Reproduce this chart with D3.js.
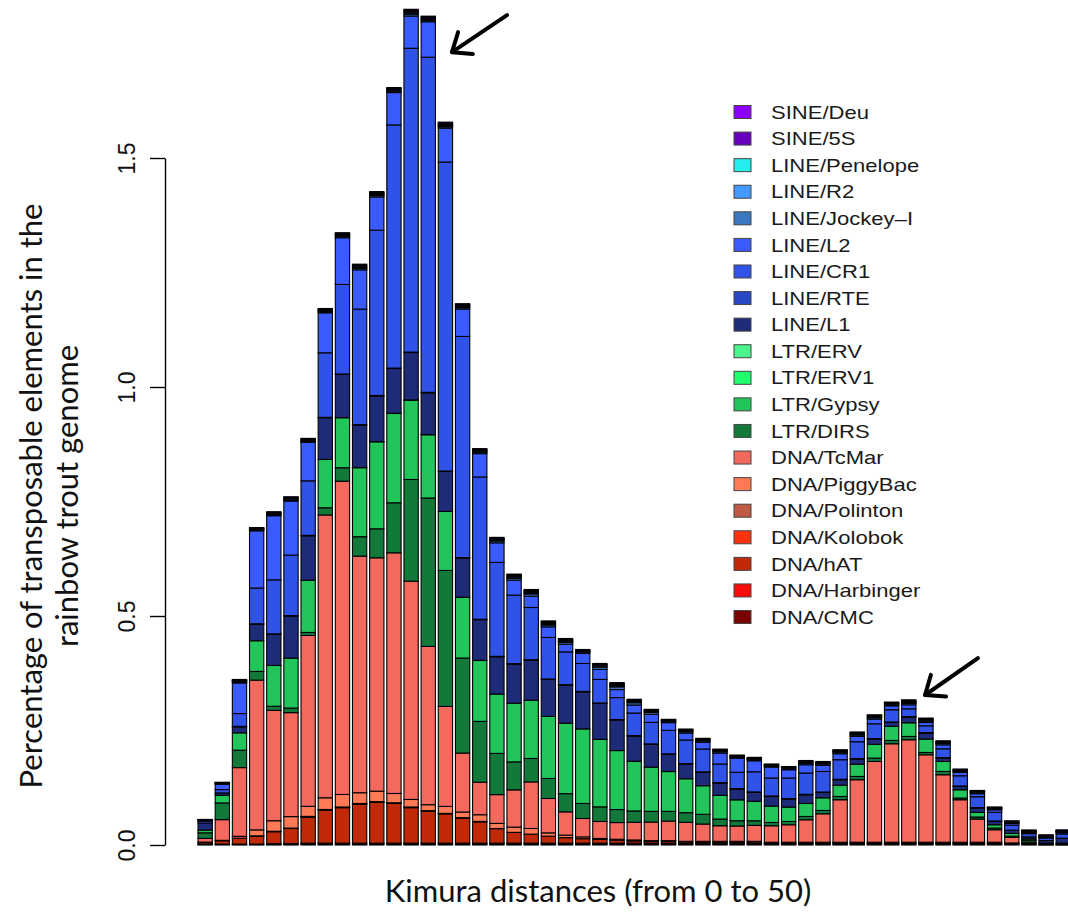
<!DOCTYPE html>
<html><head><meta charset="utf-8">
<script src="https://cdn.jsdelivr.net/npm/d3@7"></script>
<style>body{margin:0;background:#fff}svg{display:block}</style>
</head><body>
<svg id="chart" width="1068" height="915"></svg>
<script>
const distances = [0,1,2,3,4,5,6,7,8,9,10,11,12,13,14,15,16,17,18,19,20,21,22,23,24,25,26,27,28,29,30,31,32,33,34,35,36,37,38,39,40,41,42,43,44,45,46,47,48,49,50];

// stacked from bottom to top
const dnaCMC = [.001,.001,.001,.001,.001,.001,.002,.002,.002,.002,.002,.002,.002,.002,.002,.002,.002,.002,.002,.002,.002,.002,.002,.002,.002,.002,.002,.002,.002,.002,.002,.002,.002,.0015,.0015,.0015,.0015,.0015,.0015,.0015,.0015,.0015,.0015,.0015,.0015,.0015,.0015,.0015,.001,.0005,.0005];
const dnaHarbinger = [.001,.001,.001,.001,.002,.002,.002,.002,.002,.002,.002,.002,.002,.002,.002,.002,.002,.002,.002,.002,.002,.002,.002,.002,.002,.002,.002,.002,.002,.002,.002,.002,.002,.0015,.0015,.0015,.0015,.0015,.0015,.0015,.0015,.0015,.0015,.0015,.0015,.0015,.0015,.0015,.001,.0005,.0005];
const dnaHAT = [.0033,.0072,.013,.017,.026,.033,.057,.0721,.0775,.0852,.0891,.0867,.0775,.0699,.064,.0546,.0465,.0317,.0236,.0197,.0153,.012,.0098,.0081,.0065,.005,.004,.004,.003,.003,.003,.003,.003,.002,.002,.002,.002,.002,.002,.002,.002,.002,.002,.002,.002,.002,.002,.001,.001,0,0];
const dnaKolobok = [0,0,0,0,0,0,.0005,.0005,.0005,.0005,.0005,.0005,.0005,0,0,0,0,0,0,0,0,0,0,0,0,0,0,0,0,0,0,0,0,0,0,0,0,0,0,0,0,0,0,0,0,0,0,0,0,0,0];
const dnaPolinton = [0,0,0,.001,.001,.001,.001,.001,.001,.001,.001,.001,.001,.001,.001,.001,.001,0,0,0,0,0,0,0,0,0,0,0,0,0,0,0,0,0,0,0,0,0,0,0,0,0,0,0,0,0,0,0,0,0,0];
const dnaPiggyBac = [.001,.001,.004,.013,.023,.025,.022,.0255,.0273,.0234,.0229,.0203,.0164,.0131,.0153,.0124,.0146,.0114,.0114,.0124,.0072,.0055,.0039,.0022,.002,.002,.0015,.0015,.001,.001,.001,.001,.001,.001,.001,.001,.001,.001,.001,.001,.001,.001,.001,.001,.001,.001,.001,.0005,0,0,0];
const dnaTcMar = [.0081,.0452,.150,.327,.241,.227,.373,.6175,.6841,.5166,.5096,.5255,.4766,.3456,.2183,.1288,.071,.0629,.0814,.1017,.0751,.0509,.0402,.0371,.0365,.0386,.0406,.0428,.0415,.0378,.0341,.0334,.0349,.036,.0382,.0491,.0622,.0928,.1365,.1764,.2151,.2238,.191,.1474,.0928,.0507,.0273,.012,.003,.001,.001];
const ltrDIRS = [.0122,.0365,.038,.019,.009,.010,.0066,.0157,.0293,.0424,.0633,.1092,.2221,.324,.2969,.2074,.1328,.09,.0611,.0511,.0437,.0397,.0328,.0319,.0284,.0247,.0234,.0212,.021,.0212,.0146,.0116,.01,.0072,.0072,.0072,.0072,.0072,.0072,.0074,.0072,.0072,.005,.0072,.0037,.0044,.0037,.0028,.0044,.002,.002];
const ltrGypsy = [.0059,.0166,.038,.067,.089,.109,.114,.1055,.1092,.1507,.19,.195,.1731,.1382,.1288,.1328,.133,.1295,.1282,.1273,.1354,.1539,.1627,.1472,.1288,.1085,.0965,.0869,.0742,.0624,.0517,.0456,.0426,.0358,.0314,.0284,.0277,.0245,.0266,.0301,.0306,.0299,.0293,.0218,.0181,.01,.0072,.0059,.003,0,0];
const ltrERV1 = [0,0,0,0,0,0,0,0,0,.0005,.0005,.0005,.0005,.0005,0,0,0,0,0,0,0,0,0,0,0,0,0,0,0,0,0,0,0,0,0,0,0,0,0,0,0,0,0,0,0,0,0,0,0,0,0];
const ltrERV = [0,0,0,0,0,0,0,0,0,0,0,0,0,0,0,0,0,0,0,0,0,0,0,0,0,0,0,0,0,0,0,0,0,0,0,0,0,0,0,0,0,0,0,0,0,0,0,0,0,0,0];
const lineL1 = [.0153,.0052,.013,.036,.068,.092,.097,.091,.0945,.0924,.0996,.0976,.1035,.091,.0873,.0856,.0891,.0814,.0852,.0873,.0808,.083,.081,.0786,.0668,.0552,.0498,.0376,.0321,.0293,.0269,.0236,.0194,.021,.0175,.019,.0116,.012,.0114,.0114,.0087,.0124,.0131,.0074,.0072,.0096,.0072,.0072,.0044,.0057,.011];
const lineRTE = [0,0,.001,.001,.001,.001,.001,.001,.001,.001,.001,.001,.001,.001,.001,.001,.001,.001,.001,.001,.001,.001,.001,.001,.001,.001,.001,.001,.001,.001,.001,.001,.001,.001,.001,.001,.001,.001,.001,.001,.001,.001,.001,.001,.001,.001,.001,0,0,0,0];
const lineCR1 = [.0044,.0072,.028,.078,.118,.132,.119,.1409,.1955,.2523,.3608,.5309,.6634,.7318,.6745,.4828,.3106,.2051,.1497,.1141,.0907,.0717,.061,.0514,.0479,.0492,.047,.0514,.0514,.0499,.0405,.0355,.044,.0392,.0449,.0464,.0449,.0427,.0368,.0324,.0267,.0171,.0149,.0193,.0224,.0237,.0191,.0109,.007,.0055,.009];
const lineL2 = [0,.012,.067,.125,.140,.118,.084,.0873,.102,.0858,.0727,.0707,.0705,.0773,.0742,.0598,.0509,.0428,.0328,.0247,.0231,.0168,.0218,.0218,.0175,.0175,.0175,.0168,.0153,.0146,.024,.0306,.024,.024,.0181,.0181,.0131,.0131,.0116,.0103,.0087,.0087,.0072,.0087,.0072,.0066,.0055,.0037,.002,.002,.003];
const lineJockey = [.001,.001,.002,.002,.002,.002,.002,.002,.003,.003,.003,.003,.004,.003,.003,.003,.003,.004,.004,.005,.004,.004,.003,.005,.006,.005,.004,.002,.003,.003,.003,.002,.002,.002,.002,.003,.003,.003,.003,.003,.002,.003,.003,.003,.002,.002,.002,.002,.002,.001,.002];
const lineR2 = [.0007,.0008,.0014,.0013,.0017,.0019,.0017,.0019,.002,.0024,.0022,.002,.0027,.0023,.0025,.0022,.002,.002,.0023,.0024,.0023,.0021,.0014,.002,.0023,.0019,.0017,.0013,.0014,.0014,.0014,.0013,.0014,.0012,.0013,.0016,.0014,.0014,.0017,.0016,.0015,.002,.0017,.0014,.0014,.0013,.001,.0009,.001,.001,.001];
const linePenelope = [.0006,.0008,.0013,.0014,.0016,.0018,.0017,.0018,.0021,.0023,.0022,.0021,.0026,.0023,.0024,.0021,.0019,.002,.0022,.0025,.0022,.002,.0015,.002,.0022,.0018,.0017,.0013,.0015,.0014,.0013,.0013,.0013,.0012,.0013,.0015,.0014,.0015,.0016,.0016,.0015,.0019,.0016,.0014,.0013,.0013,.001,.0009,.001,.001,.001];
const sine5S = [.0007,.0007,.0014,.0013,.0017,.0019,.0016,.0019,.002,.0024,.0021,.002,.0027,.0024,.0025,.0022,.002,.0019,.0023,.0023,.0023,.0021,.0014,.002,.0024,.0019,.0018,.0013,.0014,.0015,.0014,.0013,.0014,.0011,.0013,.0016,.0015,.0014,.0017,.0016,.0016,.002,.0017,.0015,.0014,.0013,.001,.001,.001,.001,.001];
const sineDeu = [.0007,.0008,.0014,.0012,.0017,.0018,.0017,.0018,.0019,.0023,.0022,.0019,.0026,.0023,.0026,.0022,.0021,.002,.0023,.0024,.0022,.0022,.0014,.0021,.0023,.0019,.0017,.0013,.0014,.0014,.0015,.0012,.0014,.0012,.0012,.0016,.0014,.0014,.0017,.0015,.0015,.002,.0017,.0014,.0014,.0012,.001,.0009,.001,.001,.001];

const seriesNames = ["DNA/CMC","DNA/Harbinger","DNA/hAT","DNA/Kolobok","DNA/Polinton","DNA/PiggyBac","DNA/TcMar","LTR/DIRS","LTR/Gypsy","LTR/ERV1","LTR/ERV","LINE/L1","LINE/RTE","LINE/CR1","LINE/L2","LINE/Jockey-I","LINE/R2","LINE/Penelope","SINE/5S","SINE/Deu"];
const seriesValues = [dnaCMC,dnaHarbinger,dnaHAT,dnaKolobok,dnaPolinton,dnaPiggyBac,dnaTcMar,ltrDIRS,ltrGypsy,ltrERV1,ltrERV,lineL1,lineRTE,lineCR1,lineL2,lineJockey,lineR2,linePenelope,sine5S,sineDeu];
const seriesColors = ["#7a0000","#ff0a0a","#c12a08","#ff3210","#c05a42","#ff7a55","#f4695d","#13793a","#22c55a","#1eff6e","#4cf58c","#1d2b78","#2a47c4","#3152e6","#3a5bff","#3a78c0","#4499ff","#22eeee","#6600bb","#8b00ff"];
const legendLabels = ["SINE/Deu","SINE/5S","LINE/Penelope","LINE/R2","LINE/Jockey\u2013I","LINE/L2","LINE/CR1","LINE/RTE","LINE/L1","LTR/ERV","LTR/ERV1","LTR/Gypsy","LTR/DIRS","DNA/TcMar","DNA/PiggyBac","DNA/Polinton","DNA/Kolobok","DNA/hAT","DNA/Harbinger","DNA/CMC"];
const yTicks = [0, 0.5, 1.0, 1.5];
const yTickLabels = ["0.0","0.5","1.0","1.5"];

const svg = d3.select("#chart");
svg.append("rect").attr("width",1068).attr("height",915).attr("fill","#fff");

const x = d3.scaleBand().domain(distances).range([196.6, 1071.8]).paddingInner(1/6).paddingOuter(1/12);
const y = d3.scaleLinear().domain([0, 1.5]).range([845, 158]);
const xc = d3.scaleLinear().domain([0, 50]).range([x(0) + x.bandwidth()/2, x(50) + x.bandwidth()/2]);

const rows = distances.map((d, i) => {
  const r = {d};
  seriesNames.forEach((n, k) => r[n] = seriesValues[k][i]);
  return r;
});
const stacked = d3.stack().keys(seriesNames)(rows);

svg.append("g").selectAll("g").data(stacked).join("g")
  .attr("fill", (s, k) => seriesColors[k])
  .selectAll("rect").data(s => s.filter(p => p[1] - p[0] > 0)).join("rect")
  .attr("x", p => x(p.data.d))
  .attr("width", x.bandwidth())
  .attr("y", p => y(p[1]))
  .attr("height", p => y(p[0]) - y(p[1]))
  .attr("stroke", "#000")
  .attr("stroke-width", 1.1);

// y axis
const yAxis = svg.append("g").attr("transform", "translate(165,0)")
  .call(d3.axisLeft(y).tickValues(yTicks).tickFormat((d, i) => yTickLabels[i]).tickSize(15).tickSizeOuter(0));
yAxis.select(".domain").attr("stroke", "#000").attr("stroke-width", 1.4);
yAxis.selectAll(".tick line").attr("stroke", "#000").attr("stroke-width", 1.4);
yAxis.selectAll(".tick text")
  .attr("transform", "rotate(-90)")
  .attr("x", 0).attr("y", -30).attr("dy", null)
  .attr("text-anchor", "middle")
  .attr("fill", "#111")
  .style("font-family", "'Liberation Sans', Arial, sans-serif")
  .style("font-size", "23px");

// axis titles
const yTitle = svg.append("text")
  .attr("transform", "translate(42,496) rotate(-90)")
  .attr("text-anchor", "middle")
  .style("font-family", "Lato, 'Open Sans', sans-serif")
  .style("font-size", "31px").attr("fill", "#111");
yTitle.append("tspan").attr("x", 0).attr("y", 0).text("Percentage of transposable elements in the");
yTitle.append("tspan").attr("x", 0).attr("y", 36).text("rainbow trout genome");

svg.append("text")
  .attr("x", 598).attr("y", 902)
  .attr("text-anchor", "middle")
  .style("font-family", "Lato, 'Open Sans', sans-serif")
  .style("font-size", "31px").attr("fill", "#111")
  .text("Kimura distances (from 0 to 50)");

// legend
const legend = svg.append("g").attr("transform", "translate(734,112)");
const legendColors = seriesColors.slice().reverse();
const li = legend.selectAll("g").data(legendLabels).join("g")
  .attr("transform", (d, i) => `translate(0,${i * 26.58})`);
li.append("rect").attr("x", 0).attr("y", -6.5).attr("width", 17).attr("height", 13)
  .attr("fill", (d, i) => legendColors[i]).attr("stroke", "#444").attr("stroke-width", 1);
li.append("text").attr("transform", "translate(37,0) scale(1.16,1)")
  .attr("dy", "0.35em")
  .style("font-family", "'Liberation Sans', Arial, sans-serif")
  .style("font-size", "19px").attr("fill", "#1a1a1a")
  .text(d => d);

// annotation arrows
const arrows = [
  {tail: [17.59, 1.812], tip: [14.38, 1.731]},
  {tail: [45.03, 0.408], tip: [41.95, 0.3275]}
];
const ag = svg.append("g").attr("stroke", "#000").attr("stroke-width", 4)
  .attr("stroke-linecap", "round").attr("stroke-linejoin", "round").attr("fill", "none");
arrows.forEach(a => {
  const x1 = xc(a.tail[0]), y1 = y(a.tail[1]), x2 = xc(a.tip[0]), y2 = y(a.tip[1]);
  ag.append("line").attr("x1", x1).attr("y1", y1).attr("x2", x2).attr("y2", y2);
  const ang = Math.atan2(y1 - y2, x1 - x2), L = 21, spread = 0.68;
  const p1 = [x2 + L * Math.cos(ang - spread), y2 + L * Math.sin(ang - spread)];
  const p2 = [x2 + L * Math.cos(ang + spread), y2 + L * Math.sin(ang + spread)];
  ag.append("path").attr("d", `M${p1[0]},${p1[1]}L${x2},${y2}L${p2[0]},${p2[1]}`);
});
</script>
</body></html>
